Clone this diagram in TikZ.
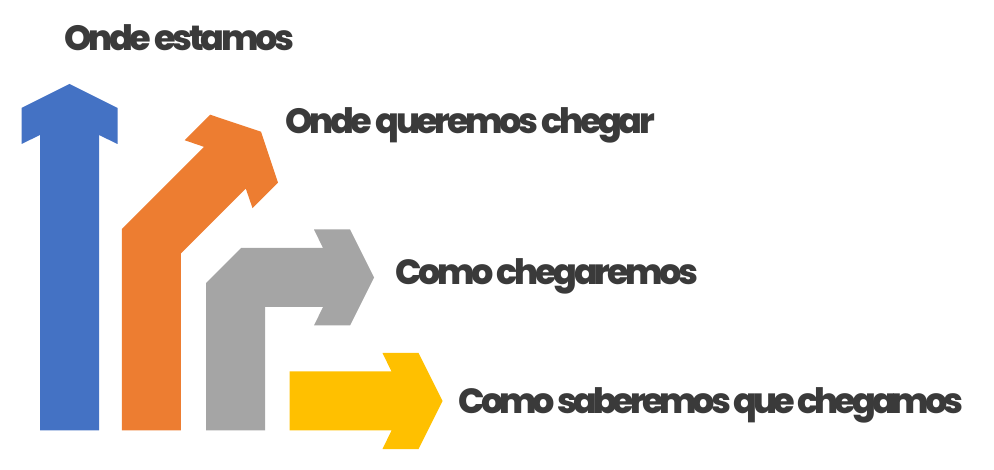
\documentclass[tikz,border=0pt]{standalone}
\usepackage{fontspec}
\setmainfont{Poppins}[BoldFont={Poppins ExtraBold}]
\definecolor{oblue}{HTML}{4472C4}
\definecolor{oorange}{HTML}{ED7D31}
\definecolor{ogray}{HTML}{A5A5A5}
\definecolor{oyellow}{HTML}{FFC000}
\definecolor{otext}{HTML}{3A3A3A}
\tikzset{
  lbl/.style={anchor=base west, inner sep=0pt, text=otext, font=\fontsize{35}{40}\selectfont\bfseries\addfontfeatures{LetterSpace=-9.5}},
  lbltight/.style={lbl, font=\fontsize{35}{40}\selectfont\bfseries\addfontfeatures{LetterSpace=-11.5}},
}
\begin{document}
\begin{tikzpicture}[x=1pt,y=-1pt]
\useasboundingbox (0,0) rectangle (994,470);
% blue
\fill[oblue] (40,430.5) -- (40,135) -- (21.5,144) -- (21.5,108) -- (69.5,84) -- (117.5,108) -- (117.5,144) -- (99,135) -- (99,430.5) -- cycle;
% orange
\fill[oorange] (121.8,430.5) -- (121.8,229.2) -- (204.1,146.9) -- (184.6,140.2) -- (210.1,114.7) -- (261,131.7) -- (278,182.6) -- (252.5,208.1) -- (245.8,188.6) -- (180.8,253.6) -- (180.8,430.5) -- cycle;
% gray
\fill[ogray] (206,430.5) -- (206,283) -- (241,248) -- (323,248) -- (314,229.5) -- (350,229.5) -- (374,277.5) -- (350,325.5) -- (314,325.5) -- (323,307) -- (265,307) -- (265,430.5) -- cycle;
% yellow
\fill[oyellow] (289.5,371.5) -- (391.5,371.5) -- (382.5,353) -- (418.5,353) -- (442.5,401) -- (418.5,449) -- (382.5,449) -- (391.5,430.5) -- (289.5,430.5) -- cycle;
\node[lbl] (t1) at (64,50.7) {Onde estamos};
\node[lbl] (t2) at (285,134) {Onde queremos chegar};
\node[lbl] (t3) at (395,284.3) {Como chegaremos};
\node[lbltight] (t4) at (458.3,413.3) {Como saberemos que chegamos};
\end{tikzpicture}
\end{document}
